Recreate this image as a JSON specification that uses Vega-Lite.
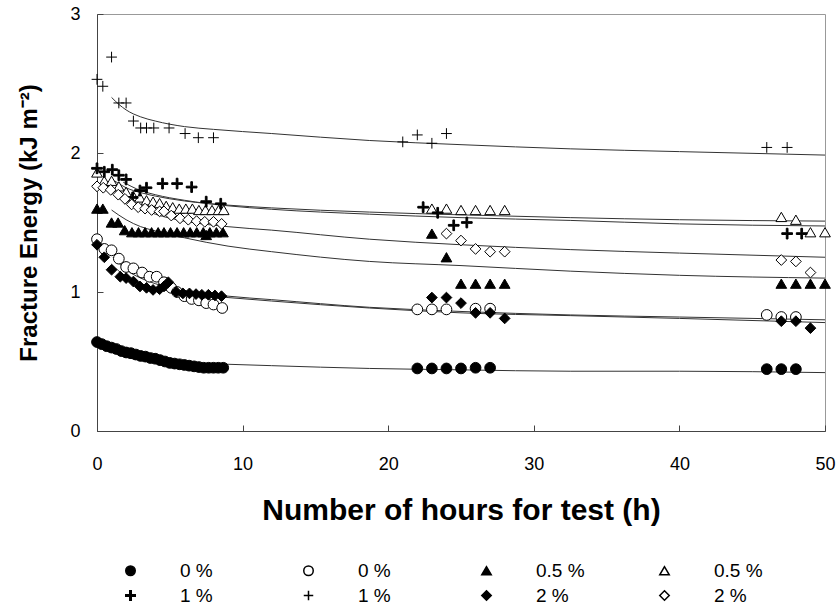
{
  "$schema": "https://vega.github.io/schema/vega-lite/v6.json",
  "width": 728,
  "height": 417,
  "autosize": "none",
  "padding": {"left": 97, "top": 14, "right": 15, "bottom": 177},
  "background": "white",
  "config": {
    "font": "Liberation Sans",
    "view": {"stroke": "#999", "strokeWidth": 1},
    "axis": {"grid": false, "domainColor": "#444", "tickColor": "#444", "labelColor": "black", "titleColor": "black", "labelFont": "Liberation Sans", "titleFont": "Liberation Sans"}
  },
  "datasets": {
    "points": [
      {"h":0,"e":0.64,"s":"0 % filled"},{"h":0.33,"e":0.625,"s":"0 % filled"},{"h":0.67,"e":0.61,"s":"0 % filled"},{"h":1,"e":0.6,"s":"0 % filled"},{"h":1.33,"e":0.59,"s":"0 % filled"},{"h":1.67,"e":0.575,"s":"0 % filled"},{"h":2,"e":0.565,"s":"0 % filled"},{"h":2.33,"e":0.56,"s":"0 % filled"},{"h":2.67,"e":0.55,"s":"0 % filled"},{"h":3,"e":0.54,"s":"0 % filled"},{"h":3.33,"e":0.535,"s":"0 % filled"},{"h":3.67,"e":0.525,"s":"0 % filled"},{"h":4,"e":0.52,"s":"0 % filled"},{"h":4.33,"e":0.51,"s":"0 % filled"},{"h":4.67,"e":0.5,"s":"0 % filled"},{"h":5,"e":0.49,"s":"0 % filled"},{"h":5.33,"e":0.485,"s":"0 % filled"},{"h":5.67,"e":0.48,"s":"0 % filled"},{"h":6,"e":0.475,"s":"0 % filled"},{"h":6.33,"e":0.47,"s":"0 % filled"},{"h":6.67,"e":0.465,"s":"0 % filled"},{"h":7,"e":0.46,"s":"0 % filled"},{"h":7.33,"e":0.455,"s":"0 % filled"},{"h":7.67,"e":0.455,"s":"0 % filled"},{"h":8,"e":0.455,"s":"0 % filled"},{"h":8.33,"e":0.455,"s":"0 % filled"},{"h":8.67,"e":0.455,"s":"0 % filled"},
      {"h":22,"e":0.45,"s":"0 % filled"},{"h":23,"e":0.45,"s":"0 % filled"},{"h":24,"e":0.45,"s":"0 % filled"},{"h":25,"e":0.45,"s":"0 % filled"},{"h":26,"e":0.455,"s":"0 % filled"},{"h":27,"e":0.455,"s":"0 % filled"},{"h":46,"e":0.445,"s":"0 % filled"},{"h":47,"e":0.445,"s":"0 % filled"},{"h":48,"e":0.445,"s":"0 % filled"},

      {"h":0,"e":1.38,"s":"0 % open"},{"h":0.5,"e":1.31,"s":"0 % open"},{"h":1,"e":1.3,"s":"0 % open"},{"h":1.5,"e":1.24,"s":"0 % open"},{"h":2,"e":1.18,"s":"0 % open"},{"h":2.5,"e":1.17,"s":"0 % open"},{"h":3.1,"e":1.14,"s":"0 % open"},{"h":3.6,"e":1.11,"s":"0 % open"},{"h":4.1,"e":1.11,"s":"0 % open"},{"h":4.6,"e":1.07,"s":"0 % open"},{"h":5.1,"e":1.03,"s":"0 % open"},{"h":5.5,"e":1.0,"s":"0 % open"},{"h":6,"e":0.97,"s":"0 % open"},{"h":6.5,"e":0.95,"s":"0 % open"},{"h":7,"e":0.94,"s":"0 % open"},{"h":7.5,"e":0.92,"s":"0 % open"},{"h":8,"e":0.91,"s":"0 % open"},{"h":8.6,"e":0.885,"s":"0 % open"},
      {"h":22,"e":0.875,"s":"0 % open"},{"h":23,"e":0.875,"s":"0 % open"},{"h":24,"e":0.875,"s":"0 % open"},{"h":26,"e":0.88,"s":"0 % open"},{"h":27,"e":0.88,"s":"0 % open"},{"h":46,"e":0.835,"s":"0 % open"},{"h":47,"e":0.82,"s":"0 % open"},{"h":48,"e":0.82,"s":"0 % open"},

      {"h":0,"e":1.6,"s":"0.5 % filled"},{"h":0.4,"e":1.6,"s":"0.5 % filled"},{"h":1,"e":1.5,"s":"0.5 % filled"},{"h":1.45,"e":1.5,"s":"0.5 % filled"},{"h":1.9,"e":1.445,"s":"0.5 % filled"},{"h":2.4,"e":1.43,"s":"0.5 % filled"},{"h":2.85,"e":1.43,"s":"0.5 % filled"},{"h":3.3,"e":1.43,"s":"0.5 % filled"},{"h":3.75,"e":1.43,"s":"0.5 % filled"},{"h":4.2,"e":1.43,"s":"0.5 % filled"},{"h":4.6,"e":1.43,"s":"0.5 % filled"},{"h":5.05,"e":1.43,"s":"0.5 % filled"},{"h":5.5,"e":1.43,"s":"0.5 % filled"},{"h":5.95,"e":1.43,"s":"0.5 % filled"},{"h":6.4,"e":1.43,"s":"0.5 % filled"},{"h":6.85,"e":1.43,"s":"0.5 % filled"},{"h":7.3,"e":1.43,"s":"0.5 % filled"},{"h":7.5,"e":1.41,"s":"0.5 % filled"},{"h":7.75,"e":1.43,"s":"0.5 % filled"},{"h":8.2,"e":1.43,"s":"0.5 % filled"},{"h":8.65,"e":1.43,"s":"0.5 % filled"},
      {"h":23,"e":1.42,"s":"0.5 % filled"},{"h":24,"e":1.25,"s":"0.5 % filled"},{"h":25,"e":1.06,"s":"0.5 % filled"},{"h":26,"e":1.06,"s":"0.5 % filled"},{"h":27,"e":1.06,"s":"0.5 % filled"},{"h":28,"e":1.06,"s":"0.5 % filled"},{"h":47,"e":1.06,"s":"0.5 % filled"},{"h":48,"e":1.06,"s":"0.5 % filled"},{"h":49,"e":1.06,"s":"0.5 % filled"},{"h":50,"e":1.06,"s":"0.5 % filled"},

      {"h":0,"e":1.86,"s":"0.5 % open"},{"h":0.5,"e":1.8,"s":"0.5 % open"},{"h":1,"e":1.8,"s":"0.5 % open"},{"h":1.5,"e":1.76,"s":"0.5 % open"},{"h":2,"e":1.72,"s":"0.5 % open"},{"h":2.5,"e":1.69,"s":"0.5 % open"},{"h":2.95,"e":1.68,"s":"0.5 % open"},{"h":3.4,"e":1.66,"s":"0.5 % open"},{"h":3.85,"e":1.65,"s":"0.5 % open"},{"h":4.3,"e":1.64,"s":"0.5 % open"},{"h":4.75,"e":1.62,"s":"0.5 % open"},{"h":5.2,"e":1.61,"s":"0.5 % open"},{"h":5.65,"e":1.6,"s":"0.5 % open"},{"h":6.1,"e":1.6,"s":"0.5 % open"},{"h":6.55,"e":1.6,"s":"0.5 % open"},{"h":7,"e":1.59,"s":"0.5 % open"},{"h":7.45,"e":1.59,"s":"0.5 % open"},{"h":7.9,"e":1.59,"s":"0.5 % open"},{"h":8.35,"e":1.59,"s":"0.5 % open"},{"h":8.7,"e":1.59,"s":"0.5 % open"},
      {"h":23,"e":1.6,"s":"0.5 % open"},{"h":24,"e":1.6,"s":"0.5 % open"},{"h":25,"e":1.59,"s":"0.5 % open"},{"h":26,"e":1.59,"s":"0.5 % open"},{"h":27,"e":1.59,"s":"0.5 % open"},{"h":28,"e":1.59,"s":"0.5 % open"},{"h":47,"e":1.54,"s":"0.5 % open"},{"h":48,"e":1.52,"s":"0.5 % open"},{"h":49,"e":1.43,"s":"0.5 % open"},{"h":50,"e":1.43,"s":"0.5 % open"},

      {"h":0,"e":1.89,"s":"1 % bold"},{"h":0.5,"e":1.865,"s":"1 % bold"},{"h":1.05,"e":1.88,"s":"1 % bold"},{"h":1.5,"e":1.84,"s":"1 % bold"},{"h":2,"e":1.81,"s":"1 % bold"},{"h":2.45,"e":1.68,"s":"1 % bold"},{"h":2.95,"e":1.73,"s":"1 % bold"},{"h":3.4,"e":1.75,"s":"1 % bold"},{"h":4.5,"e":1.78,"s":"1 % bold"},{"h":5.5,"e":1.78,"s":"1 % bold"},{"h":6.5,"e":1.755,"s":"1 % bold"},{"h":7.5,"e":1.65,"s":"1 % bold"},{"h":8.5,"e":1.635,"s":"1 % bold"},
      {"h":22.4,"e":1.61,"s":"1 % bold"},{"h":23.4,"e":1.57,"s":"1 % bold"},{"h":24.5,"e":1.48,"s":"1 % bold"},{"h":25.4,"e":1.5,"s":"1 % bold"},{"h":47.4,"e":1.42,"s":"1 % bold"},{"h":48.4,"e":1.42,"s":"1 % bold"},

      {"h":0,"e":2.53,"s":"1 % thin"},{"h":0.4,"e":2.48,"s":"1 % thin"},{"h":1,"e":2.69,"s":"1 % thin"},{"h":1.5,"e":2.36,"s":"1 % thin"},{"h":2,"e":2.36,"s":"1 % thin"},{"h":2.5,"e":2.23,"s":"1 % thin"},{"h":3,"e":2.18,"s":"1 % thin"},{"h":3.4,"e":2.18,"s":"1 % thin"},{"h":3.9,"e":2.18,"s":"1 % thin"},{"h":4.95,"e":2.18,"s":"1 % thin"},{"h":6.05,"e":2.14,"s":"1 % thin"},{"h":6.96,"e":2.11,"s":"1 % thin"},{"h":8,"e":2.11,"s":"1 % thin"},
      {"h":21,"e":2.08,"s":"1 % thin"},{"h":22,"e":2.13,"s":"1 % thin"},{"h":23,"e":2.07,"s":"1 % thin"},{"h":24,"e":2.14,"s":"1 % thin"},{"h":46,"e":2.04,"s":"1 % thin"},{"h":47.4,"e":2.04,"s":"1 % thin"},

      {"h":0,"e":1.34,"s":"2 % filled"},{"h":0.5,"e":1.25,"s":"2 % filled"},{"h":1,"e":1.16,"s":"2 % filled"},{"h":1.6,"e":1.11,"s":"2 % filled"},{"h":2,"e":1.1,"s":"2 % filled"},{"h":2.5,"e":1.075,"s":"2 % filled"},{"h":2.95,"e":1.04,"s":"2 % filled"},{"h":3.4,"e":1.03,"s":"2 % filled"},{"h":3.85,"e":1.015,"s":"2 % filled"},{"h":4.3,"e":1.02,"s":"2 % filled"},{"h":4.6,"e":1.04,"s":"2 % filled"},{"h":4.9,"e":1.07,"s":"2 % filled"},{"h":5.45,"e":1.0,"s":"2 % filled"},{"h":5.9,"e":0.99,"s":"2 % filled"},{"h":6.35,"e":0.99,"s":"2 % filled"},{"h":6.8,"e":0.985,"s":"2 % filled"},{"h":7.2,"e":0.98,"s":"2 % filled"},{"h":7.65,"e":0.98,"s":"2 % filled"},{"h":8.1,"e":0.975,"s":"2 % filled"},{"h":8.55,"e":0.97,"s":"2 % filled"},
      {"h":23,"e":0.96,"s":"2 % filled"},{"h":24,"e":0.96,"s":"2 % filled"},{"h":25,"e":0.92,"s":"2 % filled"},{"h":26,"e":0.85,"s":"2 % filled"},{"h":27,"e":0.85,"s":"2 % filled"},{"h":28,"e":0.81,"s":"2 % filled"},{"h":47,"e":0.79,"s":"2 % filled"},{"h":48,"e":0.79,"s":"2 % filled"},{"h":49,"e":0.74,"s":"2 % filled"},

      {"h":0,"e":1.76,"s":"2 % open"},{"h":0.43,"e":1.75,"s":"2 % open"},{"h":0.94,"e":1.735,"s":"2 % open"},{"h":1.46,"e":1.7,"s":"2 % open"},{"h":1.92,"e":1.67,"s":"2 % open"},{"h":2.38,"e":1.63,"s":"2 % open"},{"h":2.83,"e":1.61,"s":"2 % open"},{"h":3.3,"e":1.6,"s":"2 % open"},{"h":3.75,"e":1.59,"s":"2 % open"},{"h":4.3,"e":1.58,"s":"2 % open"},{"h":4.6,"e":1.58,"s":"2 % open"},{"h":5.1,"e":1.55,"s":"2 % open"},{"h":5.7,"e":1.53,"s":"2 % open"},{"h":6.27,"e":1.52,"s":"2 % open"},{"h":6.84,"e":1.51,"s":"2 % open"},{"h":7.4,"e":1.505,"s":"2 % open"},{"h":8,"e":1.505,"s":"2 % open"},{"h":8.56,"e":1.49,"s":"2 % open"},
      {"h":24,"e":1.42,"s":"2 % open"},{"h":25,"e":1.37,"s":"2 % open"},{"h":26,"e":1.31,"s":"2 % open"},{"h":27,"e":1.29,"s":"2 % open"},{"h":28,"e":1.29,"s":"2 % open"},{"h":47,"e":1.23,"s":"2 % open"},{"h":48,"e":1.22,"s":"2 % open"},{"h":49,"e":1.14,"s":"2 % open"}
    ],
    "curves": [
      {"h":1,"e":2.4,"c":"1 % thin"},{"h":1.5,"e":2.35,"c":"1 % thin"},{"h":2,"e":2.31,"c":"1 % thin"},{"h":3,"e":2.26,"c":"1 % thin"},{"h":4,"e":2.23,"c":"1 % thin"},{"h":6,"e":2.19,"c":"1 % thin"},{"h":8,"e":2.17,"c":"1 % thin"},{"h":12,"e":2.14,"c":"1 % thin"},{"h":18.7,"e":2.09,"c":"1 % thin"},{"h":25,"e":2.06,"c":"1 % thin"},{"h":32.5,"e":2.03,"c":"1 % thin"},{"h":40,"e":2.01,"c":"1 % thin"},{"h":50,"e":1.985,"c":"1 % thin"},
      {"h":1.2,"e":1.8,"c":"0.5 % open"},{"h":2,"e":1.75,"c":"0.5 % open"},{"h":3,"e":1.715,"c":"0.5 % open"},{"h":4,"e":1.69,"c":"0.5 % open"},{"h":6,"e":1.655,"c":"0.5 % open"},{"h":9,"e":1.625,"c":"0.5 % open"},{"h":12,"e":1.605,"c":"0.5 % open"},{"h":18.7,"e":1.575,"c":"0.5 % open"},{"h":25,"e":1.555,"c":"0.5 % open"},{"h":32.5,"e":1.535,"c":"0.5 % open"},{"h":40,"e":1.52,"c":"0.5 % open"},{"h":50,"e":1.51,"c":"0.5 % open"},
      {"h":1.8,"e":1.79,"c":"1 % bold"},{"h":3,"e":1.73,"c":"1 % bold"},{"h":4,"e":1.7,"c":"1 % bold"},{"h":6,"e":1.66,"c":"1 % bold"},{"h":9,"e":1.62,"c":"1 % bold"},{"h":12,"e":1.595,"c":"1 % bold"},{"h":18.7,"e":1.56,"c":"1 % bold"},{"h":25,"e":1.535,"c":"1 % bold"},{"h":32.5,"e":1.515,"c":"1 % bold"},{"h":40,"e":1.49,"c":"1 % bold"},{"h":50,"e":1.475,"c":"1 % bold"},
      {"h":1.7,"e":1.69,"c":"2 % open"},{"h":2,"e":1.66,"c":"2 % open"},{"h":3,"e":1.6,"c":"2 % open"},{"h":4,"e":1.56,"c":"2 % open"},{"h":6,"e":1.51,"c":"2 % open"},{"h":9,"e":1.47,"c":"2 % open"},{"h":12,"e":1.445,"c":"2 % open"},{"h":18.7,"e":1.38,"c":"2 % open"},{"h":25,"e":1.34,"c":"2 % open"},{"h":32.5,"e":1.305,"c":"2 % open"},{"h":40,"e":1.28,"c":"2 % open"},{"h":50,"e":1.25,"c":"2 % open"},
      {"h":1,"e":1.59,"c":"0.5 % filled"},{"h":2,"e":1.52,"c":"0.5 % filled"},{"h":3,"e":1.47,"c":"0.5 % filled"},{"h":4,"e":1.44,"c":"0.5 % filled"},{"h":6,"e":1.39,"c":"0.5 % filled"},{"h":9,"e":1.33,"c":"0.5 % filled"},{"h":12,"e":1.29,"c":"0.5 % filled"},{"h":18.7,"e":1.22,"c":"0.5 % filled"},{"h":25,"e":1.19,"c":"0.5 % filled"},{"h":32.5,"e":1.15,"c":"0.5 % filled"},{"h":40,"e":1.12,"c":"0.5 % filled"},{"h":50,"e":1.1,"c":"0.5 % filled"},
      {"h":1.1,"e":1.25,"c":"0 % open"},{"h":2,"e":1.16,"c":"0 % open"},{"h":3,"e":1.1,"c":"0 % open"},{"h":4,"e":1.06,"c":"0 % open"},{"h":6,"e":1.01,"c":"0 % open"},{"h":9,"e":0.97,"c":"0 % open"},{"h":12,"e":0.945,"c":"0 % open"},{"h":18.7,"e":0.89,"c":"0 % open"},{"h":25,"e":0.86,"c":"0 % open"},{"h":32.5,"e":0.835,"c":"0 % open"},{"h":40,"e":0.82,"c":"0 % open"},{"h":50,"e":0.8,"c":"0 % open"},
      {"h":1,"e":1.2,"c":"2 % filled"},{"h":2,"e":1.11,"c":"2 % filled"},{"h":3,"e":1.06,"c":"2 % filled"},{"h":4,"e":1.03,"c":"2 % filled"},{"h":6,"e":0.99,"c":"2 % filled"},{"h":9,"e":0.96,"c":"2 % filled"},{"h":12,"e":0.935,"c":"2 % filled"},{"h":18.7,"e":0.885,"c":"2 % filled"},{"h":25,"e":0.85,"c":"2 % filled"},{"h":32.5,"e":0.83,"c":"2 % filled"},{"h":40,"e":0.81,"c":"2 % filled"},{"h":50,"e":0.78,"c":"2 % filled"},
      {"h":1,"e":0.57,"c":"0 % filled"},{"h":2,"e":0.53,"c":"0 % filled"},{"h":3,"e":0.51,"c":"0 % filled"},{"h":4,"e":0.5,"c":"0 % filled"},{"h":6,"e":0.49,"c":"0 % filled"},{"h":9,"e":0.48,"c":"0 % filled"},{"h":12,"e":0.47,"c":"0 % filled"},{"h":18.7,"e":0.45,"c":"0 % filled"},{"h":25,"e":0.44,"c":"0 % filled"},{"h":32.5,"e":0.43,"c":"0 % filled"},{"h":40,"e":0.43,"c":"0 % filled"},{"h":50,"e":0.42,"c":"0 % filled"}
    ]
  },
  "encoding": {
    "x": {"field": "h", "type": "quantitative", "scale": {"domain": [0, 50], "nice": false, "zero": false},
      "axis": {"values": [0, 10, 20, 30, 40, 50], "title": "Number of hours for test (h)", "titleFontSize": 30, "titleFontWeight": "bold", "titlePadding": 22, "labelFontSize": 18, "tickSize": -6, "labelPadding": 30, "labelFlush": false}},
    "y": {"field": "e", "type": "quantitative", "scale": {"domain": [0, 3], "nice": false},
      "axis": {"values": [0, 1, 2, 3], "title": "Fracture Energy (kJ m\u207B\u00B2)", "titleFontSize": 24, "titleFontWeight": "bold", "titlePadding": 28, "labelFontSize": 18, "tickSize": -6, "labelPadding": 23, "labelFlush": false}}
  },
  "layer": [
    {
      "data": {"name": "curves"},
      "mark": {"type": "line", "color": "#333", "strokeWidth": 1, "interpolate": "monotone"},
      "encoding": {"detail": {"field": "c"}}
    },
    {
      "data": {"name": "points"},
      "mark": {"type": "point", "size": 115, "opacity": 1, "strokeWidth": 1},
      "encoding": {
        "shape": {"field": "s", "type": "nominal",
          "scale": {"domain": ["0 % filled", "0 % open", "0.5 % filled", "0.5 % open", "1 % bold", "1 % thin", "2 % filled", "2 % open"],
            "range": ["circle", "circle", "triangle-up", "triangle-up", "M-1,-0.16H-0.16V-1H0.16V-0.16H1V0.16H0.16V1H-0.16V0.16H-1Z", "M-1,0H1M0,-1V1", "diamond", "diamond"]},
          "legend": {"orient": "none", "legendX": 24, "legendY": 547, "direction": "horizontal", "columns": 4, "title": null, "gridAlign": "all",
            "columnPadding": 70, "rowPadding": 5, "labelFontSize": 19, "labelOffset": 40, "symbolSize": 90, "labelColor": "black",
            "labelExpr": "slice(datum.label, 0, indexof(datum.label, '%') + 1)"}},
        "fill": {"field": "s", "type": "nominal",
          "scale": {"domain": ["0 % filled", "0 % open", "0.5 % filled", "0.5 % open", "1 % bold", "1 % thin", "2 % filled", "2 % open"],
            "range": ["black", "white", "black", "white", "black", "black", "black", "white"]}},
        "stroke": {"field": "s", "type": "nominal",
          "scale": {"domain": ["0 % filled", "0 % open", "0.5 % filled", "0.5 % open", "1 % bold", "1 % thin", "2 % filled", "2 % open"],
            "range": ["black", "black", "black", "black", "black", "black", "black", "black"]}}
      }
    },
    {
      "mark": {"type": "text", "text": "(a)", "fontSize": 27, "align": "left", "baseline": "top", "font": "Liberation Sans", "color": "black"},
      "encoding": {"x": {"datum": 0.65}, "y": {"datum": 2.97}}
    }
  ]
}
